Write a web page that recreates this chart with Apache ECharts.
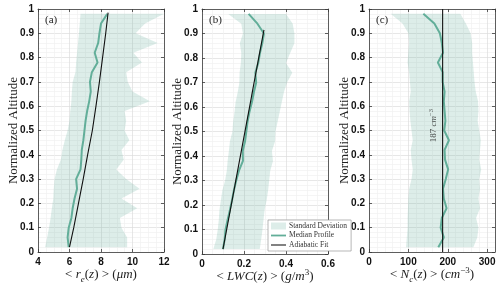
<!DOCTYPE html>
<html><head><meta charset="utf-8">
<script src="https://cdn.jsdelivr.net/npm/echarts@6/dist/echarts.min.js"></script>
<style>html,body{margin:0;padding:0;background:#fff}#c{width:500px;height:289px}</style>
</head><body><div id="c"></div>
<script>
// normalized altitude levels
const alt = [0.02,0.06,0.10,0.14,0.18,0.22,0.26,0.30,0.34,0.38,0.42,0.46,0.50,0.54,0.58,0.62,0.66,0.70,0.74,0.78,0.82,0.86,0.90,0.94,0.98];

// (a) effective radius (um)
const reMed = [5.95,5.88,5.95,6.12,6.2,6.32,6.48,6.42,6.7,6.75,6.78,6.88,6.95,7.02,7.12,7.25,7.35,7.3,7.42,7.78,7.6,7.82,7.9,8.0,8.4];
const reLo  = [4.45,4.58,4.7,4.8,4.88,4.97,5.0,5.05,5.2,5.45,5.55,5.7,5.88,6.0,6.05,6.12,6.15,6.2,6.38,6.42,6.48,6.54,6.6,6.65,6.7];
const reHi  = [9.66,9.66,9.3,9.2,10.3,9.3,10.45,9.6,8.97,9.44,9.3,9.8,9.5,9.6,9.5,11.1,10.0,9.7,9.6,10.6,10.05,11.6,10.2,10.8,12.0];
const reAdiaAlt = [0.02,0.1,0.2,0.3,0.4,0.5,0.6,0.7,0.8,0.9,0.985];
const reAdia    = [6.0,6.27,6.57,6.87,7.15,7.45,7.68,7.9,8.1,8.3,8.45];

// (b) liquid water content (g/m3)
const lwcMed = [0.10,0.108,0.112,0.122,0.133,0.143,0.152,0.163,0.176,0.195,0.194,0.205,0.211,0.217,0.226,0.238,0.247,0.258,0.254,0.268,0.276,0.287,0.295,0.264,0.222];
const lwcLo  = [0.054,0.068,0.075,0.08,0.083,0.09,0.097,0.11,0.118,0.122,0.128,0.133,0.145,0.148,0.155,0.16,0.17,0.178,0.179,0.185,0.187,0.18,0.195,0.187,0.125];
const lwcHi  = [0.275,0.282,0.288,0.293,0.298,0.308,0.315,0.32,0.325,0.338,0.333,0.348,0.35,0.36,0.37,0.38,0.39,0.405,0.43,0.4,0.42,0.44,0.44,0.432,0.40];
const lwcAdiaAlt = [0.02,0.915];
const lwcAdia    = [0.10,0.295];

// (c) droplet number concentration (cm-3)
const ncMed = [176,190,182,185,197,190,188,195,201,193,192,203,191,194,192,190,192,187,187,175,188,185,180,166,138];
const ncLo  = [94,96,98,98,99,100,102,108,111,108,106,111,108,105,103,102,106,104,102,98,100,102,100,85,55];
const ncHi  = [265,275,278,272,282,278,282,280,285,280,282,284,280,276,278,277,271,268,266,264,262,262,258,246,232];
const ncFit = 187;
const ncFitAlt = [0,1];

const xMin = [4,0,0], xMax = [12,0.6,320], xInt = [2,0.2,100], xMinor = [4,4,5];
const tickLabels = ['0','0.1','0.2','0.3','0.4','0.5','0.6','0.7','0.8','0.9','1'];

const teal = '#62ae99';
const fillC = 'rgba(98,174,153,0.22)';
const axC = '#3a3a3a';
const lefts = [38,202,369], W = 126;

const serif = 'Liberation Serif';
const richBase = {
  t:{fontFamily:serif,fontSize:13,color:'#222',lineHeight:18},
  i:{fontFamily:serif,fontSize:13,fontStyle:'italic',color:'#222',lineHeight:18},
  sub:{fontFamily:serif,fontSize:9,fontStyle:'italic',color:'#222',verticalAlign:'bottom',lineHeight:18,padding:[6,0,0,0]},
  sup:{fontFamily:serif,fontSize:9,color:'#222',verticalAlign:'top',lineHeight:18,padding:[0,0,7,0]}
};
const xNames = [
  '{t|< }{i|r}{sub|e}{t|(}{i|z}{t|) > (}{i|μm}{t|)}',
  '{t|< }{i|LWC}{t|(}{i|z}{t|) > (}{i|g}{t|/}{i|m}{sup|3}{t|)}',
  '{t|< }{i|N}{sub|c}{t|(}{i|z}{t|) > (}{i|cm}{sup|−3}{t|)}'
];

const grid=[], xAxis=[], yAxis=[];
for(let g=0;g<3;g++){
  grid.push({left:lefts[g], width:W, top:9, bottom:35});
}
for(let g=0;g<3;g++){
  xAxis.push({type:'value', gridIndex:g, min:xMin[g], max:xMax[g], interval:xInt[g], position:'bottom',
    name:xNames[g], nameLocation:'middle', nameGap:14, nameMoveOverlap:false, nameTextStyle:{rich:richBase},
    axisLine:{show:true,onZero:false,lineStyle:{color:axC,width:0.8}},
    axisTick:{show:true,inside:true,length:3,lineStyle:{color:axC,width:0.8}},
    axisLabel:{show:true,margin:5,showMaxLabel:g!==2,fontFamily:'Liberation Sans',fontWeight:'bold',fontSize:10,color:'#111'},
    splitLine:{show:true,lineStyle:{color:'#dcdcdc',width:0.7}},
    minorTick:{show:false,splitNumber:xMinor[g]},
    minorSplitLine:{show:true,lineStyle:{color:'#f0f0f0',width:0.7}}
  });
}
for(let g=0;g<3;g++){
  xAxis.push({type:'value', gridIndex:g, min:xMin[g], max:xMax[g], interval:xInt[g], position:'top',
    axisLine:{show:true,onZero:false,lineStyle:{color:axC,width:0.8}},
    axisTick:{show:true,inside:true,length:3,lineStyle:{color:axC,width:0.8}},
    axisLabel:{show:false}, splitLine:{show:false}});
}
for(let g=0;g<3;g++){
  yAxis.push({type:'value', gridIndex:g, min:0, max:1, interval:0.1, position:'left',
    name:'Normalized Altitude', nameLocation:'middle', nameGap:18, nameMoveOverlap:false,
    nameTextStyle:{fontFamily:serif,fontSize:13,color:'#222'},
    axisLine:{show:true,onZero:false,lineStyle:{color:axC,width:0.8}},
    axisTick:{show:true,inside:true,length:3,lineStyle:{color:axC,width:0.8}},
    axisLabel:{show:true,margin:4,fontFamily:'Liberation Sans',fontWeight:'bold',fontSize:10,color:'#111',
      formatter:(v)=>tickLabels[Math.round(v*10)]},
    splitLine:{show:true,lineStyle:{color:'#dcdcdc',width:0.7}},
    minorTick:{show:false,splitNumber:5},
    minorSplitLine:{show:true,lineStyle:{color:'#f0f0f0',width:0.7}}
  });
}
for(let g=0;g<3;g++){
  yAxis.push({type:'value', gridIndex:g, min:0, max:1, interval:0.1, position:'right',
    axisLine:{show:true,onZero:false,lineStyle:{color:axC,width:0.8}},
    axisTick:{show:true,inside:true,length:3,lineStyle:{color:axC,width:0.8}},
    axisLabel:{show:false}, splitLine:{show:false}});
}

function band(g, lo, hi){
  return {type:'custom', name:'Standard Deviation', xAxisIndex:g, yAxisIndex:g, z:1, silent:true,
    itemStyle:{color:fillC}, data:[[lo[0],alt[0]]],
    renderItem:(params, api)=>{
      const pts=[];
      for(let i=0;i<alt.length;i++) pts.push(api.coord([lo[i],alt[i]]));
      for(let i=alt.length-1;i>=0;i--) pts.push(api.coord([hi[i],alt[i]]));
      return {type:'polygon', shape:{points:pts}, style:{fill:fillC}};
    }};
}
function median(g, vals){
  return {type:'line', name:'Median Profile', xAxisIndex:g, yAxisIndex:g, z:3, symbol:'none',
    data:alt.map((a,i)=>[vals[i],a]), lineStyle:{color:teal,width:2}, itemStyle:{color:teal}};
}
function fit(g, xs, ys){
  return {type:'line', name:'Adiabatic Fit', xAxisIndex:g, yAxisIndex:g, z:4, symbol:'none',
    data:ys.map((a,i)=>[xs[i],a]), lineStyle:{color:'#111',width:1.1}, itemStyle:{color:'#111'}};
}

const series = [
  band(0, reLo, reHi), band(1, lwcLo, lwcHi), band(2, ncLo, ncHi),
  median(0, reMed), median(1, lwcMed), median(2, ncMed),
  fit(0, reAdia, reAdiaAlt), fit(1, lwcAdia, lwcAdiaAlt),
  {type:'line', name:'fitC', xAxisIndex:2, yAxisIndex:2, z:4, symbol:'none',
    data:ncFitAlt.map(a=>[ncFit,a]), lineStyle:{color:'#111',width:1.1}},
  {type:'scatter', name:'lbl', xAxisIndex:2, yAxisIndex:2, z:5, symbolSize:0, silent:true,
    data:[[ncFit-22,0.52]],
    label:{show:true, position:'inside', rotate:90, formatter:'{n|' + ncFit + ' }{i|cm}{s|−3}',
      rich:{n:{fontFamily:serif,fontSize:9,color:'#222',lineHeight:12},
            i:{fontFamily:serif,fontSize:9,fontStyle:'italic',color:'#222',lineHeight:12},
            s:{fontFamily:serif,fontSize:6.5,color:'#222',verticalAlign:'top',lineHeight:12,padding:[0,0,4,0]}}}}
];

const chart = echarts.init(document.getElementById('c'), null, {renderer:'canvas'});
chart.setOption({
  animation:false,
  title:[
    {text:'(a)', left:40, top:10, textStyle:{fontFamily:serif,fontSize:11,fontWeight:'normal',color:'#222'}},
    {text:'(b)', left:204, top:10, textStyle:{fontFamily:serif,fontSize:11,fontWeight:'normal',color:'#222'}},
    {text:'(c)', left:371, top:10, textStyle:{fontFamily:serif,fontSize:11,fontWeight:'normal',color:'#222'}}
  ],
  legend:{left:268, top:220, orient:'vertical', selectedMode:false,
    data:[{name:'Standard Deviation',icon:'rect'},
          {name:'Median Profile',icon:'path://M0,0H20V2.4H0Z'},
          {name:'Adiabatic Fit',icon:'path://M0,0H20V1.4H0Z'}],
    itemWidth:15, itemHeight:7, itemGap:1.5, padding:[2,4,2,3],
    backgroundColor:'#fff', borderColor:'#999', borderWidth:0.7,
    textStyle:{fontFamily:serif,fontSize:7.5,color:'#333',padding:[0,0,0,-2]}},
  grid, xAxis, yAxis, series
});
</script></body></html>
